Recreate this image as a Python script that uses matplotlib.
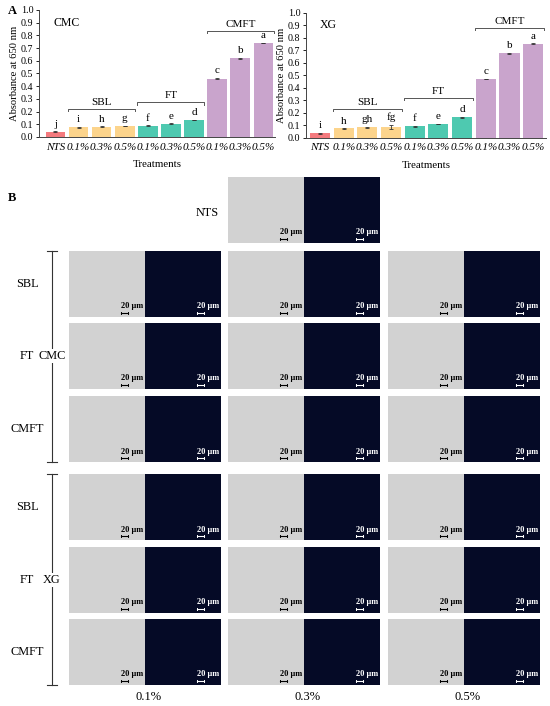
import matplotlib
matplotlib.use('Agg')
import matplotlib.pyplot as plt
from matplotlib.patches import Rectangle

plt.rcParams['font.family'] = ['Liberation Serif', 'DejaVu Serif']

# ---------------- data (panel A) ----------------
treatments = ['NTS', '0.1%', '0.3%', '0.5%', '0.1%', '0.3%', '0.5%', '0.1%', '0.3%', '0.5%']
groups = ['NTS', 'SBL', 'SBL', 'SBL', 'FT', 'FT', 'FT', 'CMFT', 'CMFT', 'CMFT']
cmc_values = [0.040, 0.076, 0.081, 0.086, 0.089, 0.105, 0.134, 0.460, 0.620, 0.740]
cmc_errors = [0.003, 0.003, 0.003, 0.003, 0.003, 0.003, 0.003, 0.004, 0.004, 0.003]
cmc_letters = ['j', 'i', 'h', 'g', 'f', 'e', 'd', 'c', 'b', 'a']
xg_values = [0.037, 0.074, 0.084, 0.088, 0.092, 0.110, 0.162, 0.470, 0.675, 0.752]
xg_errors = [0.004, 0.003, 0.003, 0.015, 0.004, 0.003, 0.004, 0.003, 0.004, 0.002]
xg_letters = ['i', 'h', 'gh', 'fg', 'f', 'e', 'd', 'c', 'b', 'a']
bracket_groups = ['SBL', 'FT', 'CMFT']
cmc_bracket_y = [0.222, 0.275, 0.835]
xg_bracket_y = [0.233, 0.318, 0.880]
group_colors = {'NTS': '#f47a7e', 'SBL': '#fcd48c', 'FT': '#4ec9b0', 'CMFT': '#c9a4cc'}

# ---------------- data (panel B) ----------------
concentrations = ['0.1%', '0.3%', '0.5%']
polymers = ['CMC', 'XG']
methods = ['SBL', 'FT', 'CMFT']

fig = plt.figure(figsize=(5.5, 7.06), dpi=100)


def bar_panel(rect, values, errors, letters, bracket_y, title, xlim):
    ax = fig.add_axes(rect)
    x = list(range(len(values)))
    colors = [group_colors[g] for g in groups]
    ax.bar(x, values, width=0.85, color=colors, edgecolor='none',
           yerr=errors, error_kw=dict(ecolor='#333333', elinewidth=0.6, capsize=1.2, capthick=0.6))
    for xi, v, e, l in zip(x, values, errors, letters):
        ax.text(xi, v + e + 0.02, l, ha='center', va='bottom', fontsize=8)
    for g, by in zip(bracket_groups, bracket_y):
        idx = [i for i, gg in enumerate(groups) if gg == g]
        x0, x1 = idx[0] - 0.45, idx[-1] + 0.45
        ax.plot([x0, x0, x1, x1], [by - 0.02, by, by, by - 0.02], color='#555555', lw=0.7, clip_on=False)
        ax.text((x0 + x1) / 2, by + 0.05, g, ha='center', va='center', fontsize=8)
    ax.set_xlim(*xlim)
    ax.set_ylim(0, 1.0)
    ax.set_yticks([i / 10 for i in range(11)])
    ax.set_yticklabels(['%.1f' % (i / 10) for i in range(11)], fontsize=7.2)
    ax.set_xticks(x)
    ax.set_xticklabels(treatments, fontsize=8, style='italic')
    ax.tick_params(axis='x', length=0, pad=4)
    ax.tick_params(axis='y', length=2.5, width=0.6, pad=1.5)
    for s in ['top', 'right']:
        ax.spines[s].set_visible(False)
    for s in ['left', 'bottom']:
        ax.spines[s].set_linewidth(0.7)
        ax.spines[s].set_color('#444444')
    ax.set_ylabel('Absorbance at 650 nm', fontsize=7.6, labelpad=1.5)
    ax.set_xlabel('Treatments', fontsize=7.8, labelpad=6)
    ax.text(0.06, 0.9, title, transform=ax.transAxes, fontsize=8.5, ha='left', va='center')
    return ax


bar_panel([0.0709, 0.806, 0.429, 0.180], cmc_values, cmc_errors, cmc_letters, cmc_bracket_y, 'CMC', (-0.71, 9.5))
bar_panel([0.556, 0.805, 0.437, 0.177], xg_values, xg_errors, xg_letters, xg_bracket_y, 'XG', (-0.6, 9.55))

# ---------------- overlay for panel B (pixel coords) ----------------
ov = fig.add_axes([0, 0, 1, 1], zorder=5)
ov.set_xlim(0, 550)
ov.set_ylim(706, 0)
ov.axis('off')
ov.patch.set_alpha(0)

ov.text(12, 10.5, 'A', fontsize=9, weight='bold', ha='center', va='center')
ov.text(12, 198, 'B', fontsize=9, weight='bold', ha='center', va='center')

img_w, img_h = 76, 66
col_x = [69, 228, 388]
row_y = {'CMC': [251, 323, 396], 'XG': [474, 547, 619]}
bright_col = '#d2d2d2'
dark_col = '#050a26'


def scale_bar(xr, yb, color):
    ov.text(xr - 1.5, yb - 10.5, '20 μm', fontsize=6, weight='bold', color=color, ha='right', va='center')
    ov.plot([xr - 24, xr - 17], [yb - 4, yb - 4], color=color, lw=0.8)
    ov.plot([xr - 24, xr - 24], [yb - 5, yb - 3], color=color, lw=0.7)
    ov.plot([xr - 17, xr - 17], [yb - 5, yb - 3], color=color, lw=0.7)


def image_pair(x0, y0):
    ov.add_patch(Rectangle((x0, y0), img_w, img_h, facecolor=bright_col, edgecolor='none'))
    ov.add_patch(Rectangle((x0 + img_w, y0), img_w, img_h, facecolor=dark_col, edgecolor='none'))
    scale_bar(x0 + img_w, y0 + img_h, 'black')
    scale_bar(x0 + 2 * img_w, y0 + img_h, 'white')


# NTS row
image_pair(228, 177)
ov.text(207, 213, 'NTS', fontsize=8.8, ha='center', va='center')

for p in polymers:
    ys = row_y[p]
    for m, y0 in zip(methods, ys):
        for cx in col_x:
            image_pair(cx, y0)
        ov.text(27, y0 + img_h / 2, m, fontsize=8.8, ha='center', va='center')
    top, bot = ys[0], ys[-1] + img_h
    ov.plot([52, 52], [top, bot], color='#333333', lw=0.8)
    ov.plot([47, 57], [top, top], color='#333333', lw=0.8)
    ov.plot([47, 57], [bot, bot], color='#333333', lw=0.8)
    ov.text(52, ys[1] + img_h / 2, p, fontsize=8.8, ha='center', va='center',
            bbox=dict(facecolor='white', edgecolor='none', pad=0.5))

for c, cx in zip(concentrations, col_x):
    ov.text(cx + img_w + 4, 697, c, fontsize=9, ha='center', va='center')

fig.savefig('out.png', dpi=100)
